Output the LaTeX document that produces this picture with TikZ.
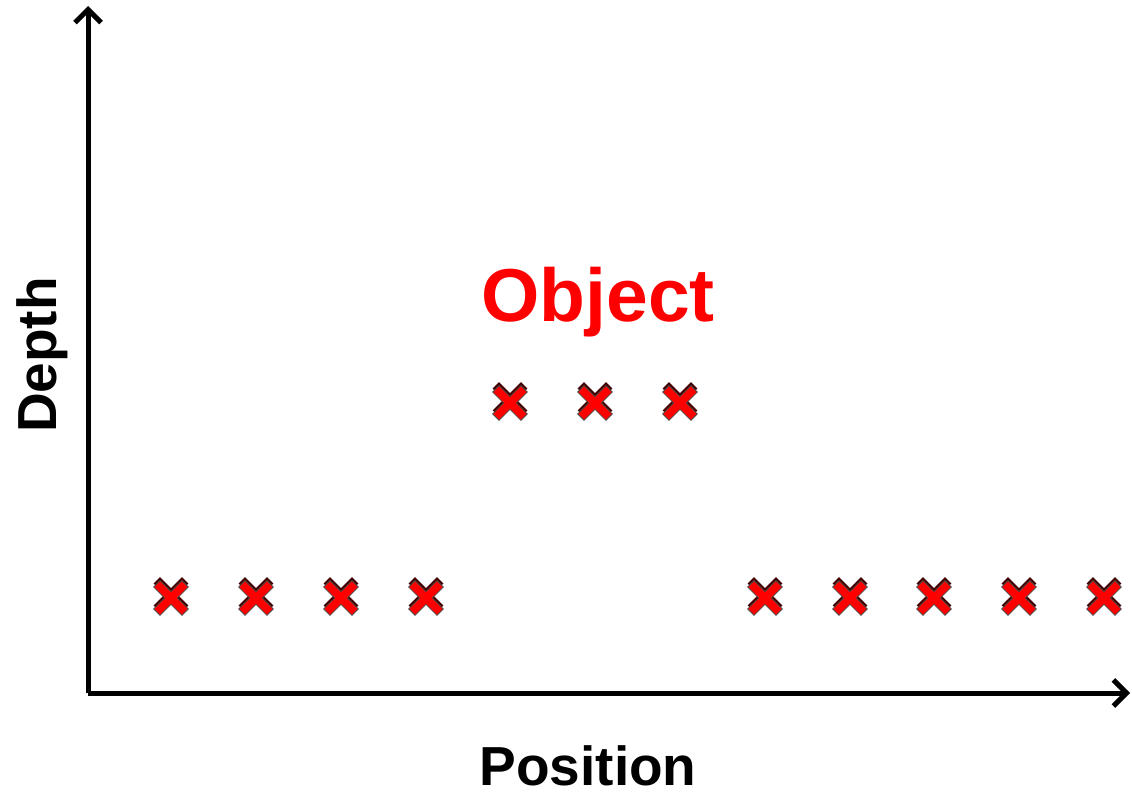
\documentclass[tikz,border=0pt]{standalone}
\usepackage{fontspec}
\setmainfont{Liberation Sans}
\usepackage{tikz}
\usetikzlibrary{arrows.meta}
\usetikzlibrary{positioning}
\tikzset{axis/.style = {line width=5pt, -{Straight Barb[length=13pt,width=26pt,line width=5pt]}},
         pics/xmark/.style = {code = {
             \begin{scope}[rotate=45]
               \fill [black!75!red, shift={(2.5,-2.5)}] (4.5,20) -- (4.5,4.5) -- (20,4.5) -- (20,-4.5) -- (4.5,-4.5) -- (4.5,-20)
                   -- (-4.5,-20) -- (-4.5,-4.5) -- (-20,-4.5) -- (-20,4.5) -- (-4.5,4.5) -- (-4.5,20) -- cycle;
               \filldraw [fill=red, draw=black!70, line width=0.8pt] (4.5,20) -- (4.5,4.5) -- (20,4.5) -- (20,-4.5) -- (4.5,-4.5) -- (4.5,-20)
                   -- (-4.5,-20) -- (-4.5,-4.5) -- (-20,-4.5) -- (-20,4.5) -- (-4.5,4.5) -- (-4.5,20) -- cycle;
             \end{scope}}}}

\begin{document}
\begin{tikzpicture}[x=1pt,y=-1pt]
    \useasboundingbox (0,0) rectangle (1132,800);
    \coordinate (origin) at (88,693);
    \coordinate (xend) at (1130,693);
    \coordinate (yend) at (88,6);
    \draw [axis] (origin) -- (xend);
    \draw [axis] (origin) -- (yend);
    \node (position) [inner sep=0pt] at (588,766) {\fontsize{55}{60}\selectfont\bfseries Position};
    \node (depth) [rotate=90] at (42,355) {\fontsize{55}{60}\selectfont\bfseries Depth};
    \node (object) [text=red] at (598,302) {\fontsize{75}{80}\selectfont\bfseries Object};
    % ground
    \foreach \x in {171, 256, 341, 426, 765, 850, 934, 1019, 1104} {
      \pic at (\x,598) {xmark};
    }
    % object
    \foreach \x in {510, 595, 680} {
      \pic at (\x,403) {xmark};
    }
\end{tikzpicture}
\end{document}
